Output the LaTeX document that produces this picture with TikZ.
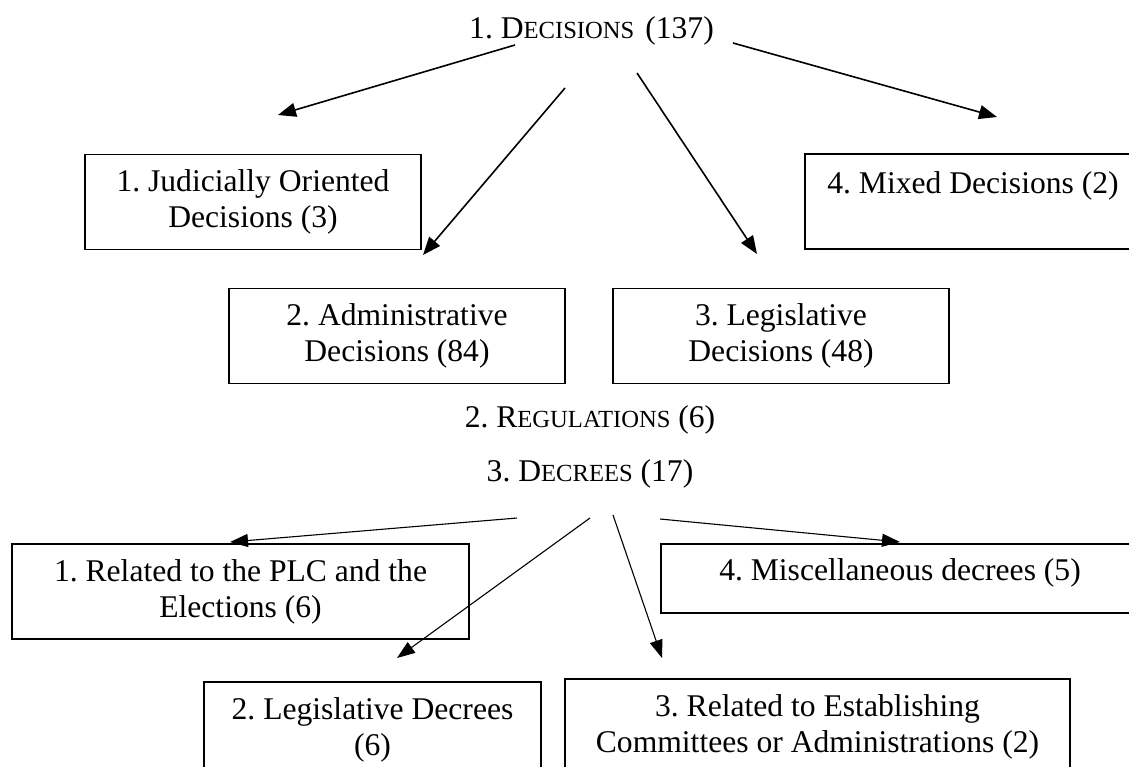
\documentclass[tikz,border=0pt]{standalone}
\usepackage{fontspec}
\setmainfont{Liberation Serif}
\usetikzlibrary{arrows.meta, positioning, calc}
\newcommand{\smc}[1]{{\fontsize{24.6}{30}\selectfont #1}}
\frenchspacing

\begin{document}
\begin{tikzpicture}[x=1pt, y=-1pt, font=\fontsize{31.6}{36}\selectfont,
	box/.style={draw, line width=1.6pt, align=center, inner sep=0pt, minimum height=95pt},
	openbox/.style={draw, line width=1.6pt, inner sep=0pt, anchor=north},
	head/.style={anchor=base, inner sep=0pt},
	fl/.style={-{Triangle[length=18pt, width=14pt]}, line width=1.6pt},
	fd/.style={-{Triangle[length=18pt, width=13pt]}, line width=1.1pt}]

	\clip (0,0) rectangle (1129,766);
	\fill[white] (0,0) rectangle (1129,766);

	% --- decisiones ---
	\node[head] (dec) at (591.5,38) {1. D\smc{ECISIONS}\hspace{11pt}(137)};
	\node[box, minimum width=336pt] (jud) at (253,202) {1. Judicially Oriented\\ Decisions (3)};
	\node[openbox, minimum width=336pt, text height=40pt, text depth=55pt] (mix) at (973,153) {4. Mixed Decisions (2)};
	\node[box, minimum width=336pt] (adm) at (397,336) {2. Administrative\\ Decisions (84)};
	\node[box, minimum width=336pt] (leg) at (781,336) {3. Legislative\\ Decisions (48)};

	\coordinate (d1) at (515,45);  \coordinate (t1) at (278,115);
	\coordinate (d2) at (565,88);  \coordinate (t2) at (423,255);
	\coordinate (d3) at (637,73);  \coordinate (t3) at (757,254);
	\coordinate (d4) at (733,43);  \coordinate (t4) at (997,117);
	\draw[fl] (d1)--(t1); \draw[fl] (d2)--(t2);
	\draw[fl] (d3)--(t3); \draw[fl] (d4)--(t4);

	% --- reglamentos ---
	\node[head] (reg) at (590,427) {2. R\smc{EGULATIONS} (6)};

	% --- decretos ---
	\node[head] (dcr) at (590,481) {3. D\smc{ECREES} (17)};
	\node[box, minimum width=457pt] (plc) at (240.5,591.5) {1. Related to the PLC and the\\ Elections (6)};
	\node[openbox, minimum width=478pt, text height=37pt, text depth=32pt] (misc) at (900,543) {4. Miscellaneous decrees (5)};
	\node[box, minimum width=337pt] (ldc) at (372.5,729.5) {2. Legislative Decrees\\ (6)};
	\node[box, minimum width=505pt] (est) at (817.5,726.5) {3. Related to Establishing\\ Committees or Administrations (2)};

	\coordinate (e1) at (517,518); \coordinate (u1) at (230,542);
	\coordinate (e2) at (590,518); \coordinate (u2) at (397,658);
	\coordinate (e3) at (613,515); \coordinate (u3) at (662,658);
	\coordinate (e4) at (660,519); \coordinate (u4) at (900,542);
	\draw[fd] (e1)--(u1); \draw[fd] (e2)--(u2);
	\draw[fd] (e3)--(u3); \draw[fd] (e4)--(u4);
\end{tikzpicture}
\end{document}
